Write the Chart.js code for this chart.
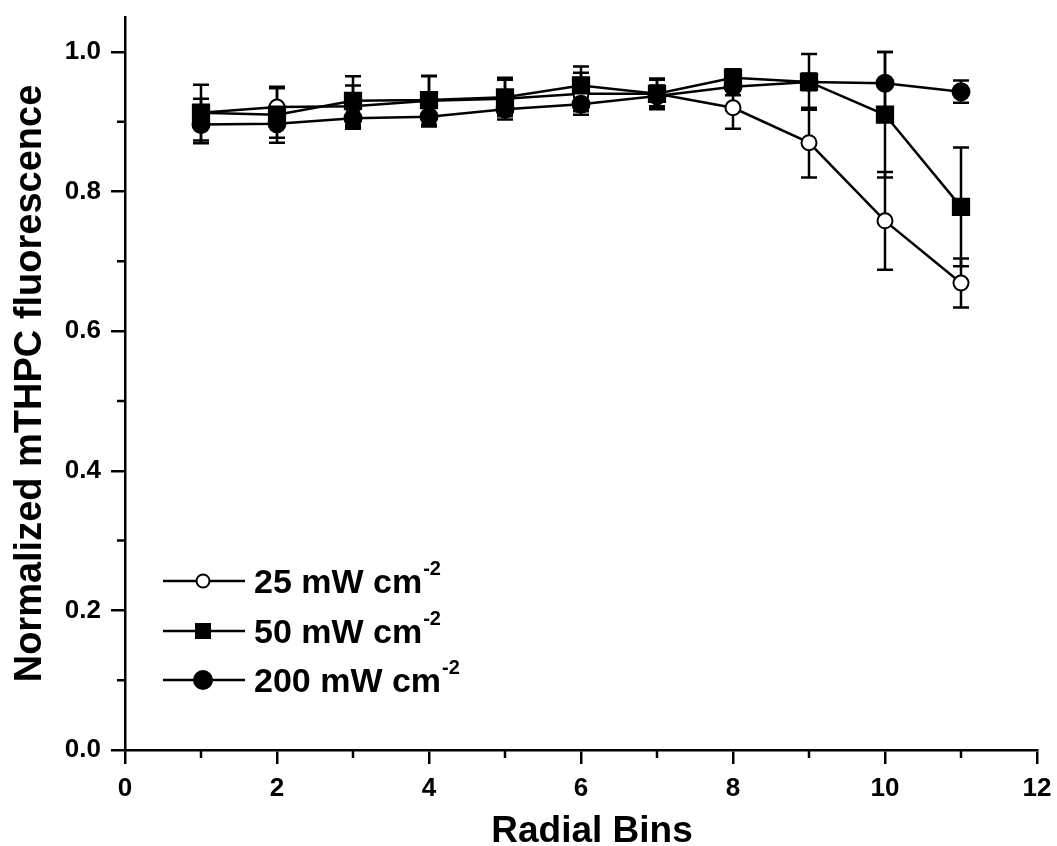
<!DOCTYPE html>
<html><head><meta charset="utf-8">
<script src="https://cdn.jsdelivr.net/npm/chart.js@4.4.0/dist/chart.umd.min.js"></script>
<style>html,body{margin:0;padding:0;background:#fff;}#wrap{width:1057px;height:846px;position:relative;}</style>
</head><body><div id="wrap"><canvas id="c"></canvas></div>
<script>
// ---- data ----
const bins = [1, 2, 3, 4, 5, 6, 7, 8, 9, 10, 11];
const seriesNames = ['25 mW cm', '50 mW cm', '200 mW cm'];
const unitExponent = '-2';
const s25  = [0.913, 0.921, 0.922, 0.930, 0.933, 0.940, 0.940, 0.920, 0.870, 0.758, 0.669];
const e25  = [0.040, 0.027, 0.030, 0.035, 0.030, 0.030, 0.020, 0.030, 0.050, 0.070, 0.035];
const s50  = [0.913, 0.910, 0.930, 0.931, 0.935, 0.952, 0.940, 0.963, 0.957, 0.910, 0.778];
const e50  = [0.020, 0.040, 0.035, 0.035, 0.025, 0.027, 0.022, 0.012, 0.040, 0.090, 0.085];
const s200 = [0.896, 0.897, 0.905, 0.907, 0.918, 0.925, 0.937, 0.950, 0.957, 0.955, 0.943];
const e200 = [0.027, 0.020, 0.015, 0.014, 0.010, 0.010, 0.015, 0.012, 0.012, 0.045, 0.016];
const xTickValues = [0, 2, 4, 6, 8, 10, 12];
const xMinorTicks = [1, 3, 5, 7, 9, 11];
const yTickValues = [0.0, 0.2, 0.4, 0.6, 0.8, 1.0];
const yMinorTicks = [0.1, 0.3, 0.5, 0.7, 0.9];
const xTitle = 'Radial Bins';
const yTitle = 'Normalized mTHPC fluorescence';

const FONT = '"Liberation Sans", Arial, sans-serif';
const errors = [e25, e50, e200];
const markerStyles = [
  {style: 'circle', fill: '#ffffff', r: 7.5, lr: 6.5},
  {style: 'rect', fill: '#000000', r: 11.5, lr: 8},
  {style: 'circle', fill: '#000000', r: 8.5, lr: 9}
];
const drawOrder = [3, 2, 1]; // 25 drawn first (bottom), 200 on top

function pts(vals) { return bins.map((b, i) => ({x: b, y: vals[i]})); }

const errorBarPlugin = {
  id: 'errbars',
  beforeDatasetsDraw(chart) {
    const ctx = chart.ctx, xs = chart.scales.x, ys = chart.scales.y;
    ctx.save();
    ctx.strokeStyle = '#000';
    ctx.lineWidth = 2.5;
    chart.data.datasets.forEach((ds, di) => {
      const err = errors[di];
      ds.data.forEach((p, i) => {
        const px = xs.getPixelForValue(p.x);
        const top = ys.getPixelForValue(p.y + err[i]);
        const bot = ys.getPixelForValue(p.y - err[i]);
        ctx.beginPath();
        ctx.moveTo(px, top); ctx.lineTo(px, bot);
        ctx.moveTo(px - 8, top); ctx.lineTo(px + 8, top);
        ctx.moveTo(px - 8, bot); ctx.lineTo(px + 8, bot);
        ctx.stroke();
      });
    });
    ctx.restore();
  }
};

const axisExtrasPlugin = {
  id: 'axisExtras',
  afterDraw(chart) {
    const ctx = chart.ctx, xs = chart.scales.x, ys = chart.scales.y;
    const ca = chart.chartArea;
    ctx.save();
    ctx.strokeStyle = '#000';
    ctx.lineWidth = 2.5;
    ctx.beginPath();
    xMinorTicks.forEach(v => {
      const px = xs.getPixelForValue(v);
      ctx.moveTo(px, ca.bottom); ctx.lineTo(px, ca.bottom + 8);
    });
    yMinorTicks.forEach(v => {
      const py = ys.getPixelForValue(v);
      ctx.moveTo(ca.left, py); ctx.lineTo(ca.left - 8, py);
    });
    ctx.stroke();
    // x axis title
    ctx.fillStyle = '#000';
    ctx.font = 'bold 37px ' + FONT;
    ctx.textAlign = 'center';
    ctx.textBaseline = 'alphabetic';
    ctx.fillText(xTitle, (ca.left + ca.right) / 2 + 11, 842);
    ctx.restore();
  }
};

const legendPlugin = {
  id: 'customLegend',
  afterDraw(chart) {
    const ctx = chart.ctx;
    const rows = [581, 631, 680];
    ctx.save();
    seriesNames.forEach((name, i) => {
      const y = rows[i];
      ctx.strokeStyle = '#000';
      ctx.lineWidth = 2.5;
      ctx.beginPath();
      ctx.moveTo(163, y); ctx.lineTo(245, y);
      ctx.stroke();
      const m = markerStyles[i];
      const cx = 203;
      ctx.fillStyle = m.fill;
      ctx.lineWidth = 2;
      if (m.style === 'rect') {
        ctx.fillRect(cx - m.lr, y - m.lr, 2 * m.lr, 2 * m.lr);
      } else {
        ctx.beginPath();
        ctx.arc(cx, y, m.lr, 0, Math.PI * 2);
        ctx.fill();
        ctx.stroke();
      }
      ctx.fillStyle = '#000';
      ctx.font = 'bold 34px ' + FONT;
      ctx.textBaseline = 'alphabetic';
      ctx.textAlign = 'left';
      ctx.fillText(name, 254, y + 12);
      const w = ctx.measureText(name).width;
      ctx.font = 'bold 20px ' + FONT;
      ctx.fillText(unitExponent, 254 + w + 1, y - 6);
    });
    ctx.restore();
  }
};

const datasets = [s25, s50, s200].map((vals, i) => ({
  label: seriesNames[i] + '⁻²',
  data: pts(vals),
  order: drawOrder[i],
  borderColor: '#000',
  borderWidth: 2.5,
  pointStyle: markerStyles[i].style,
  pointRadius: markerStyles[i].r,
  pointBackgroundColor: markerStyles[i].fill,
  pointBorderColor: '#000',
  pointBorderWidth: 2,
  tension: 0,
  fill: false
}));

new Chart(document.getElementById('c'), {
  type: 'line',
  data: {datasets},
  options: {
    responsive: true,
    maintainAspectRatio: false,
    animation: false,
    devicePixelRatio: 1,
    layout: {padding: {left: 0, top: 17, right: 20, bottom: 0}},
    plugins: {legend: {display: false}, tooltip: {enabled: false}},
    scales: {
      x: {
        type: 'linear', min: 0, max: 12,
        afterFit: s => { s.height = 96; s.paddingLeft = 0; s.paddingRight = 0; },
        afterBuildTicks: s => { s.ticks = xTickValues.map(v => ({value: v})); },
        ticks: {color: '#000', font: {family: FONT, size: 26, weight: 'bold'}, padding: 9, maxRotation: 0,
                callback: v => String(v)},
        grid: {display: true, drawOnChartArea: false, drawTicks: true, tickLength: 14, color: '#000', lineWidth: 2.5},
        border: {display: true, color: '#000', width: 2.5},
        title: {display: false}
      },
      y: {
        type: 'linear', min: 0, max: 1.05,
        afterFit: s => { s.width = 125; s.paddingTop = 0; s.paddingBottom = 0; },
        afterBuildTicks: s => { s.ticks = yTickValues.map(v => ({value: v})); },
        ticks: {color: '#000', font: {family: FONT, size: 26, weight: 'bold'}, padding: 10,
                callback: v => Number(v).toFixed(1)},
        grid: {display: true, drawOnChartArea: false, drawTicks: true, tickLength: 14, color: '#000', lineWidth: 2.5},
        border: {display: true, color: '#000', width: 2.5},
        title: {display: true, text: yTitle, color: '#000', font: {family: FONT, size: 38, weight: 'bold', lineHeight: 1}, padding: {top: 12, bottom: 0}}
      }
    }
  },
  plugins: [errorBarPlugin, axisExtrasPlugin, legendPlugin]
});
</script>
</body></html>
